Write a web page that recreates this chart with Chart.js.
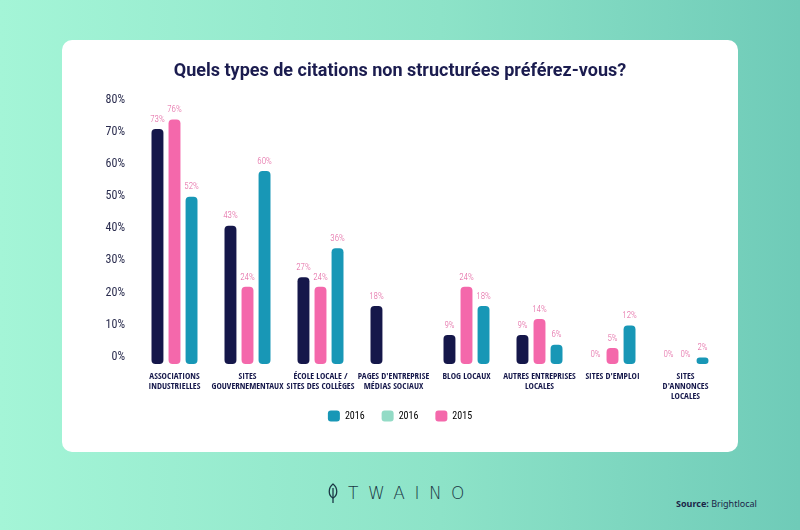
<!DOCTYPE html>
<html>
<head>
<meta charset="utf-8">
<script src="https://cdn.jsdelivr.net/npm/chart.js@4"></script>
<style>
  html, body { margin: 0; padding: 0; }
  body {
    width: 800px; height: 530px; position: relative; overflow: hidden;
    background: linear-gradient(90deg, #a4f5d7 0%, #8de3c8 55%, #6fcbb8 100%);
    font-family: "Roboto", sans-serif;
  }
  #card {
    position: absolute; left: 62px; top: 40px; width: 676px; height: 412px;
    background: #fff; border-radius: 10px;
  }
  #logo {
    position: absolute; left: 326px; top: 482px; height: 22px;
    display: flex; align-items: center; color: #1a3644;
  }
  #logo span {
    font-family: "DejaVu Sans", sans-serif; font-weight: 200; font-size: 17px;
    letter-spacing: 9.5px; margin-left: 8px;
  }
  #source {
    position: absolute; left: 676px; top: 497px; font-size: 9px; color: #1b2547;
    font-family: "Noto Sans", sans-serif;
  }
</style>
</head>
<body>
<div id="card"><canvas id="myChart" width="676" height="412"></canvas></div>
<div id="logo">
  <svg width="14" height="20" viewBox="0 0 14 20">
    <path d="M7 1 C12 5 12 12 7 15 C2 12 2 5 7 1 Z" fill="none" stroke="#1a3644" stroke-width="1.3"/>
    <line x1="7" y1="5" x2="7" y2="20" stroke="#1a3644" stroke-width="1.3"/>
  </svg>
  <span>TWAINO</span>
</div>
<div id="source"><b>Source:</b> Brightlocal</div>
<script>
const categories = [
    ["ASSOCIATIONS", "INDUSTRIELLES"],
    ["SITES", "GOUVERNEMENTAUX"],
    ["ÉCOLE LOCALE /", "SITES DES COLLÈGES"],
    ["PAGES D'ENTREPRISE", "MÉDIAS SOCIAUX"],
    ["BLOG LOCAUX"],
    ["AUTRES ENTREPRISES", "LOCALES"],
    ["SITES D'EMPLOI"],
    ["SITES", "D'ANNONCES", "LOCALES"]
];
const navyValues = [73, 43, 27, 18, 9, 9, 0, 0];
const pinkValues = [76, 24, 24, null, 24, 14, 5, 0];
const tealValues = [52, 60, 36, null, 18, 6, 12, 2];
const yTicks = [0, 10, 20, 30, 40, 50, 60, 70, 80];
const legendLabels = ["2016", "2016", "2015"];

const navy = "#15174a";
const pink = "#f468ab";
const teal = "#1897b6";
const mint = "#93dbc6";
const legendColors = [teal, mint, pink];

const boldCond = "'Open Sans Condensed', 'Open Sans', sans-serif";
const thinCond = "'Roboto Condensed', Roboto, sans-serif";

// pink value labels above each bar
const valueLabels = {
    id: "valueLabels",
    afterDatasetsDraw(chart) {
        const c = chart.ctx;
        c.save();
        c.font = "300 9px " + thinCond;
        c.fillStyle = "#e2619f";
        c.textAlign = "center";
        c.textBaseline = "bottom";
        chart.data.datasets.forEach((ds, i) => {
            chart.getDatasetMeta(i).data.forEach((bar, j) => {
                const v = ds.data[j];
                if (v === null || v === undefined) return;
                c.fillText(v + "%", bar.x, bar.y - 5);
            });
        });
        c.restore();
    }
};

// x labels are clipped to the axis box: let the third line show below it
const tallLabels = {
    id: "tallLabels",
    afterLayout(chart) {
        const x = chart.scales.x;
        x.bottom = x.top + 50;
    }
};

const ctx = document.getElementById("myChart").getContext("2d");

const myChart = new Chart(ctx, {
    type: "bar",
    data: {
        labels: categories,
        datasets: [
            { label: "navy", data: navyValues, backgroundColor: navy },
            { label: "pink", data: pinkValues, backgroundColor: pink },
            { label: "teal", data: tealValues, backgroundColor: teal }
        ]
    },
    options: {
        responsive: false,
        animation: false,
        layout: { padding: { left: 16, right: 16, top: 0, bottom: 20.5 } },
        datasets: {
            bar: {
                categoryPercentage: 0.7,
                barPercentage: 0.7,
                borderRadius: 4,
                borderSkipped: false
            }
        },
        scales: {
            x: {
                grid: { display: false, drawTicks: false },
                border: { display: false },
                ticks: {
                    color: navy,
                    padding: 8,
                    maxRotation: 0,
                    autoSkip: false,
                    font: { family: boldCond, size: 9, weight: "bold", lineHeight: 1.1 }
                },
                afterFit(scale) { scale.height = 29.5; }
            },
            y: {
                min: 0,
                max: 80,
                grid: { display: false, drawTicks: false },
                border: { display: false },
                afterBuildTicks(scale) { scale.ticks = yTicks.map(v => ({ value: v })); },
                afterFit(scale) { scale.width = 60; },
                ticks: {
                    color: "#2a2c4e",
                    padding: 13,
                    labelOffset: -7,
                    font: { family: thinCond, size: 12 },
                    callback: v => v + "%"
                }
            }
        },
        plugins: {
            title: {
                display: true,
                text: "Quels types de citations non structurées préférez-vous?",
                color: "#1b1c4f",
                font: { family: "Roboto", size: 18, weight: "bold" },
                padding: { top: 21, bottom: 24 }
            },
            legend: {
                position: "bottom",
                labels: {
                    boxWidth: 12,
                    boxHeight: 11,
                    padding: 17,
                    color: "#2a2c4e",
                    font: { family: thinCond, size: 10 },
                    useBorderRadius: true,
                    generateLabels: () => legendLabels.map((t, i) => ({
                        text: t,
                        fillStyle: legendColors[i],
                        strokeStyle: legendColors[i],
                        lineWidth: 0,
                        borderRadius: 3,
                        datasetIndex: i
                    }))
                }
            },
            tooltip: { enabled: false }
        }
    },
    plugins: [valueLabels, tallLabels]
});
</script>
</body>
</html>
